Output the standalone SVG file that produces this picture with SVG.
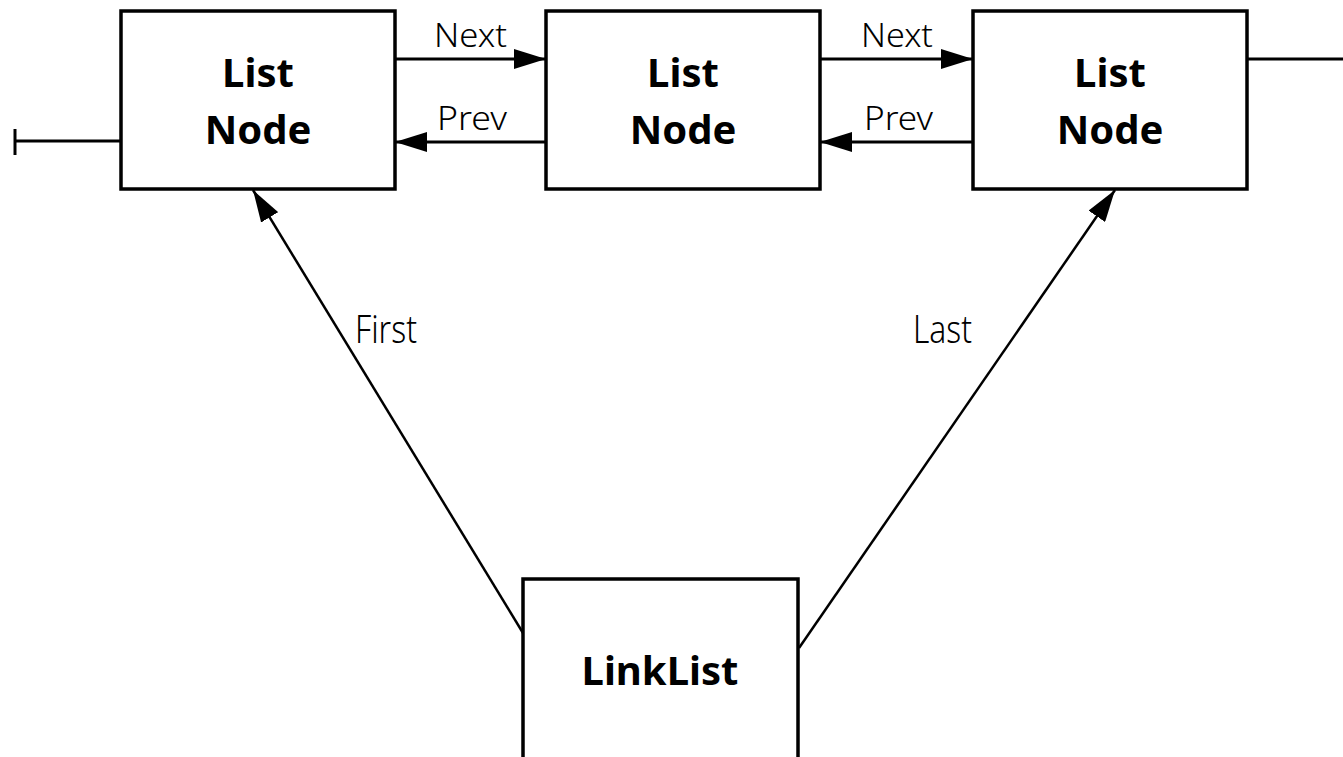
<svg xmlns="http://www.w3.org/2000/svg" width="1343" height="757" viewBox="0 0 1343 757">
<style>
.box{fill:#fff;stroke:#000;stroke-width:3.5}
.b{font-family:"Noto Sans","Open Sans",sans-serif;font-weight:bold;font-size:40px;text-anchor:middle;fill:#000}
.l{font-family:"Noto Sans","Open Sans",sans-serif;font-weight:300;fill:#000}
.c{stroke:#000;stroke-width:3;fill:none}
.d{stroke:#000;stroke-width:2.5;fill:none}
</style>
<defs>
<marker id="ah" markerUnits="userSpaceOnUse" markerWidth="32" markerHeight="20" refX="32" refY="10" orient="auto">
<path d="M0,0 L32,10 L0,20 Z" fill="#000"/>
</marker>
</defs>
<rect width="1343" height="757" fill="#fff"/>
<g id="connectors">
<line class="c" x1="15" y1="141" x2="121" y2="141"/>
<line class="c" x1="15" y1="129" x2="15" y2="155"/>
<line class="c" x1="395" y1="59" x2="546" y2="59" marker-end="url(#ah)"/>
<line class="c" x1="546" y1="142" x2="395" y2="142" marker-end="url(#ah)"/>
<line class="c" x1="820" y1="59" x2="973" y2="59" marker-end="url(#ah)"/>
<line class="c" x1="973" y1="142" x2="820" y2="142" marker-end="url(#ah)"/>
<line class="c" x1="1247" y1="59" x2="1343" y2="59"/>
<line class="d" x1="523" y1="633" x2="253" y2="190" marker-end="url(#ah)"/>
<line class="d" x1="799" y1="648" x2="1115" y2="190" marker-end="url(#ah)"/>
<text class="l" x="434" y="47" font-size="33" textLength="73" lengthAdjust="spacingAndGlyphs">Next</text>
<text class="l" x="437" y="130" font-size="33" textLength="70" lengthAdjust="spacingAndGlyphs">Prev</text>
<text class="l" x="861" y="47" font-size="33" textLength="72" lengthAdjust="spacingAndGlyphs">Next</text>
<text class="l" x="864" y="130" font-size="33" textLength="69" lengthAdjust="spacingAndGlyphs">Prev</text>
<text class="l" x="355" y="343" font-size="38" textLength="62" lengthAdjust="spacingAndGlyphs">First</text>
<text class="l" x="913" y="343" font-size="38" textLength="59" lengthAdjust="spacingAndGlyphs">Last</text>
</g>
<g id="node1">
<rect class="box" x="121" y="11" width="274" height="178"/>
<text class="b" x="258" y="87">List</text>
<text class="b" x="258" y="144">Node</text>
</g>
<g id="node2">
<rect class="box" x="546" y="11" width="274" height="178"/>
<text class="b" x="683" y="87">List</text>
<text class="b" x="683" y="144">Node</text>
</g>
<g id="node3">
<rect class="box" x="973" y="11" width="274" height="178"/>
<text class="b" x="1110" y="87">List</text>
<text class="b" x="1110" y="144">Node</text>
</g>
<g id="linklist">
<rect class="box" x="523" y="579" width="275" height="190"/>
<text class="b" x="660" y="685" font-size="42">LinkList</text>
</g>
</svg>
